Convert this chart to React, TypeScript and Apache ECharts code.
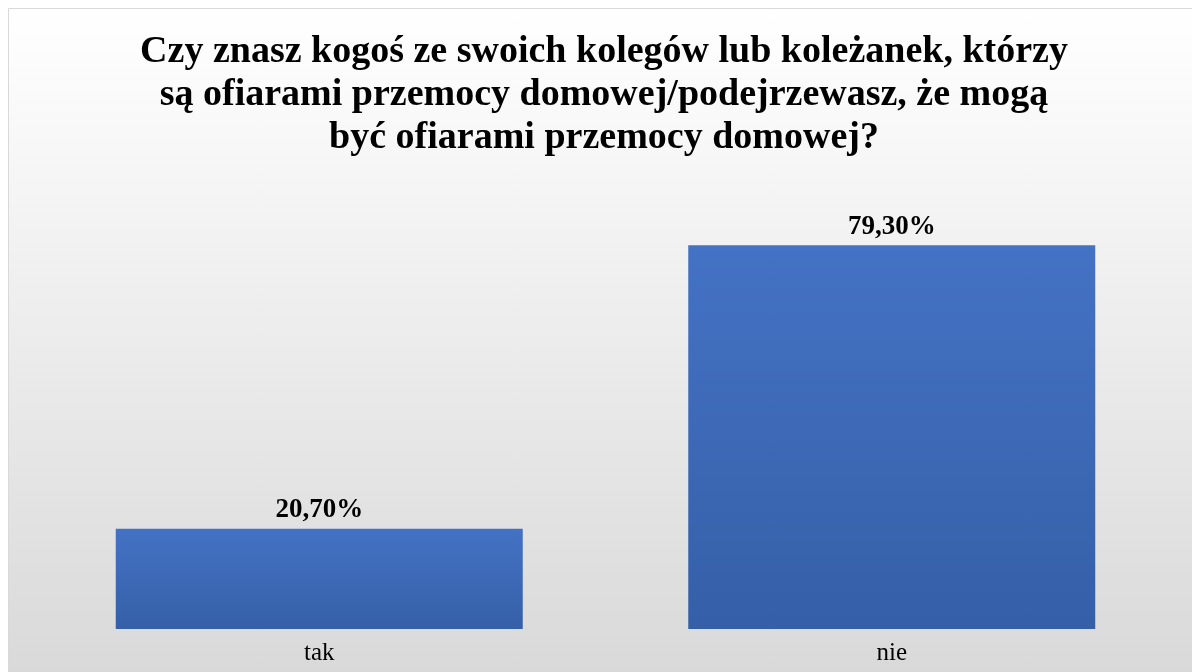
import React, { useEffect, useRef } from "react";
import * as echarts from "echarts";

const categories = ["tak", "nie"];
const values = [20.7, 79.3];
const titleLines = [
  "Czy znasz kogoś ze swoich kolegów lub koleżanek, którzy",
  "są ofiarami przemocy domowej/podejrzewasz, że mogą",
  "być ofiarami przemocy domowej?",
];

export default function App() {
  const ref = useRef<HTMLDivElement>(null);
  useEffect(() => {
    const chart = echarts.init(ref.current!, null, { renderer: "svg" });
    chart.setOption({
      animation: false,
      graphic: [
        {
          type: "rect",
          z: -100,
          silent: true,
          shape: { x: 0.5, y: 0.5, width: 1300, height: 800 },
          style: {
            fill: new echarts.graphic.LinearGradient(0, 0, 0, 1, [
              { offset: 0, color: "#ffffff" },
              { offset: 0.83, color: "#d9d9d9" },
              { offset: 1, color: "#d6d6d6" },
            ]),
            stroke: "#d9d9d9",
            lineWidth: 1,
          },
        },
        {
          type: "text",
          x: 596,
          y: 19,
          style: {
            text: titleLines.join("\n"),
            fontFamily: "Liberation Serif",
            fontWeight: "bold",
            fontSize: 38,
            lineHeight: 43,
            fill: "#000000",
            align: "center",
            verticalAlign: "top",
          },
        },
      ],
      grid: { left: 25, right: 30, top: 137, bottom: 59, containLabel: false },
      xAxis: {
        type: "category",
        data: categories,
        axisLine: { show: false },
        axisTick: { show: false },
        axisLabel: {
          fontFamily: "Liberation Serif",
          fontSize: 25,
          color: "#000000",
          margin: 10,
        },
      },
      yAxis: {
        type: "value",
        min: 0,
        max: 100,
        show: false,
        splitLine: { show: false },
      },
      series: [
        {
          type: "bar",
          data: values,
          barWidth: 407,
          itemStyle: {
            color: new echarts.graphic.LinearGradient(0, 0, 0, 1, [
              { offset: 0, color: "#4472c4" },
              { offset: 1, color: "#355fa7" },
            ]),
          },
          label: {
            show: true,
            position: "top",
            distance: 7,
            formatter: (p: any) => p.value.toFixed(2).replace(".", ",") + "%",
            fontFamily: "Liberation Serif",
            fontWeight: "bold",
            fontSize: 27,
            color: "#000000",
          },
        },
      ],
    });
    return () => chart.dispose();
  }, []);
  return (
    <div
      ref={ref}
      style={{ position: "fixed", left: 8, top: 8, width: 1200, height: 680 }}
    />
  );
}
